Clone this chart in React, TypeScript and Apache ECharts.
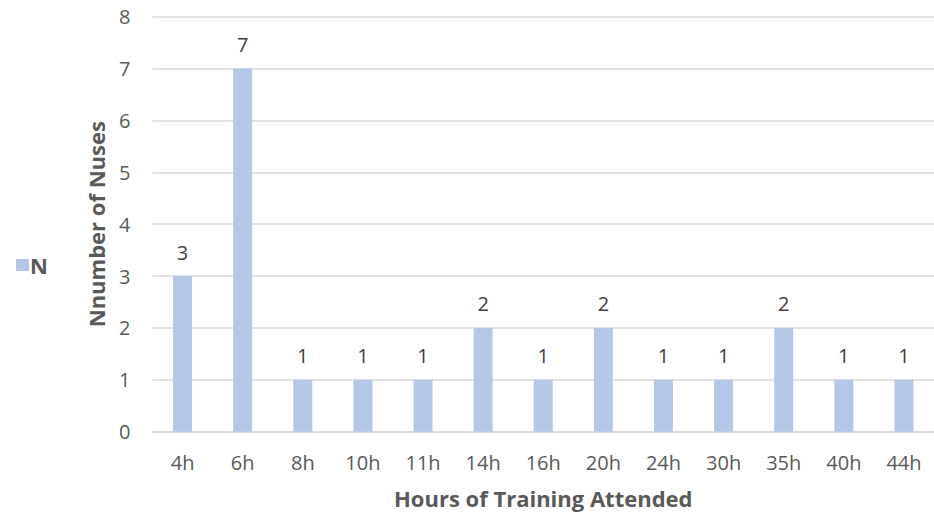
import React, { useEffect, useRef } from "react";
import * as echarts from "echarts";

const categories = ["4h", "6h", "8h", "10h", "11h", "14h", "16h", "20h", "24h", "30h", "35h", "40h", "44h"];
const nurseCounts = [3, 7, 1, 1, 1, 2, 1, 2, 1, 1, 2, 1, 1];
const seriesName = "N";
const yTitle = "Nnumber of Nuses";
const xTitle = "Hours of Training Attended";

const FONT = "'Open Sans', Lato, sans-serif";

export default function App() {
  const ref = useRef<HTMLDivElement>(null);

  useEffect(() => {
    if (!ref.current) return;
    const chart = echarts.init(ref.current, null, { renderer: "svg" });
    chart.setOption({
      animation: false,
      backgroundColor: "#ffffff",
      textStyle: { fontFamily: FONT },
      legend: {
        data: [seriesName],
        orient: "vertical",
        left: 11,
        top: 249,
        icon: "rect",
        itemWidth: 13,
        itemHeight: 12,
        itemGap: 6,
        textStyle: { color: "#595959", fontSize: 22, fontWeight: "bold", fontFamily: FONT, padding: [0, 0, 0, -4] },
      },
      grid: { left: 152.5, top: 16.7, width: 792, height: 415, containLabel: false },
      xAxis: {
        type: "category",
        data: categories,
        name: xTitle,
        nameLocation: "middle",
        nameGap: 55,
        nameTextStyle: { color: "#595959", fontSize: 22, fontWeight: "bold", fontFamily: FONT },
        axisLine: { lineStyle: { color: "#d9d9d9", width: 1.5 } },
        axisTick: { show: false },
        axisLabel: { color: "#595959", fontSize: 20, margin: 21, fontFamily: FONT },
      },
      yAxis: {
        type: "value",
        min: 0,
        max: 8,
        interval: 1,
        name: yTitle,
        nameLocation: "middle",
        nameGap: 46,
        nameTextStyle: { color: "#595959", fontSize: 22, fontWeight: "bold", fontFamily: FONT },
        axisLine: { show: false },
        axisTick: { show: false },
        axisLabel: { color: "#595959", fontSize: 20, margin: 22, fontFamily: FONT },
        splitLine: { lineStyle: { color: "#d9d9d9", width: 1.5 } },
      },
      series: [
        {
          name: seriesName,
          type: "bar",
          data: nurseCounts,
          barWidth: 19,
          itemStyle: { color: "#b4c7e7" },
          label: {
            show: true,
            position: "top",
            distance: 14,
            color: "#404040",
            fontSize: 20,
            fontFamily: FONT,
          },
        },
      ],
    });
    return () => chart.dispose();
  }, []);

  return <div ref={ref} style={{ width: 934, height: 516, position: "absolute", left: 0, top: 0 }} />;
}
